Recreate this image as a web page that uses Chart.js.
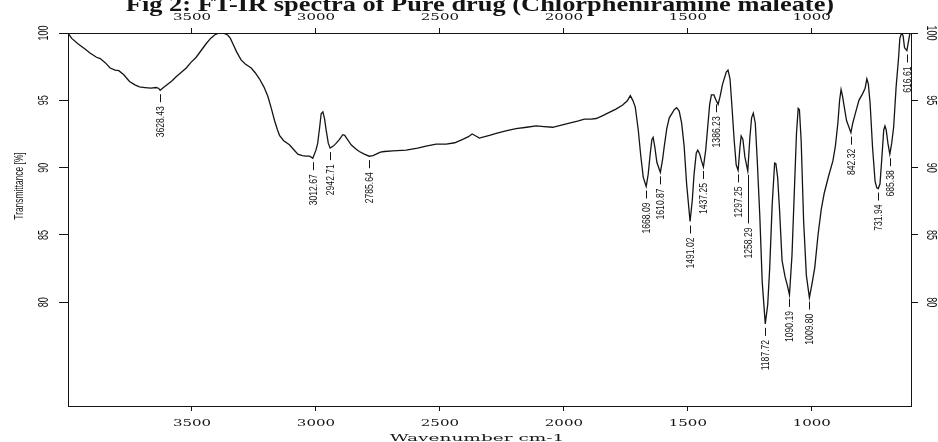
<!DOCTYPE html>
<html>
<head>
<meta charset="utf-8">
<script src="https://cdn.jsdelivr.net/npm/chart.js@4.4.1/dist/chart.umd.min.js"></script>
<style>
  html, body { margin: 0; padding: 0; background: #fff; }
  #wrap { width: 938px; height: 442px; }
</style>
</head>
<body>
<div id="wrap"><canvas id="irChart" width="938" height="442"></canvas></div>
<script>
// spectrum (wavenumber cm-1 / transmittance %)
const wavenumbers = [
  4000, 3985, 3960, 3930, 3910, 3885, 3870, 3850, 3830, 3810,
  3795, 3775, 3752, 3730, 3712, 3690, 3665, 3645, 3635, 3628.43,
  3615, 3598, 3580, 3564, 3545, 3523, 3505, 3483, 3463, 3443,
  3425, 3409, 3390, 3375, 3356, 3345, 3335, 3320, 3302, 3285,
  3261, 3245, 3228, 3210, 3194, 3180, 3167, 3155, 3147, 3130,
  3107, 3090, 3073, 3055, 3040, 3025, 3012.67, 3000, 2993, 2985,
  2979, 2972, 2965, 2959, 2950, 2942.71, 2930, 2919, 2905, 2892,
  2884, 2875, 2858, 2840, 2825, 2805, 2785.64, 2770, 2757, 2740,
  2724, 2690, 2636, 2590, 2556, 2515, 2475, 2440, 2408, 2385,
  2370, 2355, 2341, 2300, 2273, 2230, 2193, 2150, 2112, 2080,
  2045, 2010, 1978, 1945, 1917, 1890, 1870, 1845, 1817, 1790,
  1763, 1745, 1732, 1722, 1712, 1700, 1690, 1680, 1668.09, 1660,
  1652, 1645, 1640, 1633, 1625, 1610.87, 1602, 1595, 1585, 1575,
  1565, 1555, 1545, 1535, 1525, 1515, 1505, 1491.02, 1482, 1475,
  1466, 1460, 1452, 1445, 1437.25, 1428, 1420, 1412, 1405, 1395,
  1386.23, 1378, 1370, 1360, 1345, 1338, 1330, 1322, 1313, 1305,
  1297.25, 1290, 1285, 1278, 1270, 1258.29, 1250, 1243, 1236, 1228,
  1220, 1210, 1200, 1187.72, 1178, 1170, 1160, 1150, 1145, 1138,
  1130, 1120, 1108, 1098, 1090.19, 1080, 1070, 1062, 1055, 1050,
  1043, 1033, 1022, 1009.80, 1000, 988, 975, 962, 950, 932,
  915, 905, 895, 888, 882, 876, 870, 860, 842.32, 835,
  825, 810, 795, 785, 778, 772, 765, 755, 745, 738,
  731.94, 725, 718, 710, 705, 700, 693, 685.38, 678, 670,
  660, 650, 645, 638, 632, 626, 616.61, 610, 604, 600
];
const transmittance = [
  100.0, 99.6, 99.2, 98.8, 98.5, 98.2, 98.1, 97.8, 97.4, 97.25,
  97.2, 96.9, 96.4, 96.15, 96.0, 95.95, 95.9, 95.95, 95.9, 95.75,
  95.95, 96.2, 96.45, 96.75, 97.05, 97.4, 97.8, 98.2, 98.7, 99.2,
  99.6, 99.85, 100.0, 100.0, 99.85, 99.6, 99.2, 98.6, 98.0, 97.7,
  97.4, 97.05, 96.6, 96.0, 95.3, 94.4, 93.5, 92.8, 92.4, 92.0,
  91.7, 91.35, 91.0, 90.9, 90.85, 90.85, 90.7, 91.3, 91.8, 93.0,
  94.0, 94.15, 93.6, 92.8, 91.8, 91.45, 91.6, 91.8, 92.1, 92.45,
  92.4, 92.15, 91.7, 91.4, 91.2, 91.0, 90.85, 90.9, 91.0, 91.15,
  91.2, 91.25, 91.3, 91.45, 91.6, 91.75, 91.75, 91.85, 92.1, 92.3,
  92.5, 92.35, 92.2, 92.4, 92.55, 92.75, 92.9, 93.0, 93.1, 93.05,
  93.0, 93.15, 93.3, 93.45, 93.6, 93.6, 93.65, 93.85, 94.1, 94.35,
  94.65, 94.95, 95.35, 95.0, 94.5, 92.8, 90.9, 89.3, 88.6, 89.5,
  91.0, 92.1, 92.25, 91.5, 90.4, 89.65, 90.6, 91.6, 92.9, 93.7,
  94.0, 94.3, 94.45, 94.2, 93.3, 91.6, 88.8, 86.0, 87.6, 89.5,
  91.1, 91.3, 91.0, 90.5, 90.05, 91.3, 93.0, 94.7, 95.4, 95.4,
  95.0, 94.7, 95.3, 96.2, 97.1, 97.25, 96.6, 94.5, 92.0, 90.2,
  89.8, 91.5, 92.35, 92.1, 90.8, 89.75, 92.2, 93.7, 94.05, 93.3,
  90.5, 86.5, 81.5, 78.4, 79.8, 82.5, 87.2, 90.35, 90.3, 89.3,
  86.8, 83.1, 81.9, 81.2, 80.55, 83.5, 88.5, 92.5, 94.4, 94.3,
  92.0, 86.0, 82.0, 80.35, 81.3, 82.6, 85.0, 86.9, 88.1, 89.4,
  90.5, 91.6, 93.3, 95.0, 95.8, 95.3, 94.6, 93.5, 92.6, 93.3,
  94.0, 95.0, 95.5, 95.9, 96.6, 96.2, 94.8, 91.5, 89.0, 88.5,
  88.45, 88.8, 90.6, 92.8, 93.1, 92.8, 91.8, 91.0, 91.8, 93.0,
  96.0, 98.2, 99.6, 100.0, 99.8, 98.9, 98.7, 99.4, 100.0, 100.0
];
// labelled minima
const peakLabels = [3628.43, 3012.67, 2942.71, 2785.64, 1668.09, 1610.87, 1491.02, 1437.25,
  1386.23, 1297.25, 1258.29, 1187.72, 1090.19, 1009.80, 842.32, 731.94, 685.38, 616.61];
const xTicks = [3500, 3000, 2500, 2000, 1500, 1000];
const yTicks = [80, 85, 90, 95, 100];

const chartTitle = 'Fig 2: FT-IR spectra of Pure drug (Chlorpheniramine maleate)';
const xTitle = 'Wavenumber cm-1';
const yTitle = 'Transmittance [%]';

const INK = '#141414';
const SANS = '"Liberation Sans", Arial, sans-serif';
const SERIF = '"DejaVu Serif", serif';

// draws a piece of text, optionally rotated and stretched
function drawText(ctx, s, x, y, o) {
  ctx.save();
  ctx.translate(x, y);
  if (o.rot) ctx.rotate(o.rot);
  ctx.scale(o.sx || 1, o.sy || 1);
  ctx.font = o.font;
  ctx.fillStyle = INK;
  ctx.textAlign = o.align || 'center';
  ctx.textBaseline = o.base || 'middle';
  ctx.fillText(s, 0, 0);
  ctx.restore();
}

const textPlugin = {
  id: 'irText',
  afterDraw(chart) {
    const ctx = chart.ctx;
    const x = chart.scales.x, y = chart.scales.y;

    // title, top cut off like the picture
    drawText(ctx, chartTitle, 480, 10.5, { font: 'bold 22px "Liberation Serif", serif', sx: 1.2, base: 'alphabetic' });

    // x tick labels top and bottom
    xTicks.forEach(v => {
      const px = x.getPixelForValue(v);
      drawText(ctx, String(v), px, 17.5, { font: '10px ' + SERIF, sx: 1.5 });
      drawText(ctx, String(v), px, 423, { font: '10px ' + SERIF, sx: 1.5 });
    });
    drawText(ctx, xTitle, 477, 440.5, { font: '10px ' + SERIF, sx: 1.85, base: 'alphabetic' });

    // y tick labels, rotated both sides
    yTicks.forEach(v => {
      const py = y.getPixelForValue(v);
      drawText(ctx, String(v), 43.5, py, { font: '11px ' + SANS, rot: -Math.PI / 2, sx: 0.82, sy: 1.35 });
      drawText(ctx, String(v), 931.5, py, { font: '11px ' + SANS, rot: Math.PI / 2, sx: 0.82, sy: 1.35 });
    });
    drawText(ctx, yTitle, 19, 186, { font: '10px ' + SANS, rot: -Math.PI / 2, sx: 0.84, sy: 1.3 });

    // peak labels under each minimum
    ctx.save();
    ctx.font = '10px ' + SANS;
    ctx.strokeStyle = INK;
    ctx.lineWidth = 1;
    const placed = [];
    peakLabels.forEach(wn => {
      const i = wavenumbers.indexOf(wn);
      const px = Math.round(x.getPixelForValue(wn)) + 0.5;
      const py = y.getPixelForValue(transmittance[i]);
      const s = wn.toFixed(2);
      const len = ctx.measureText(s).width * 0.86;
      let top = py + 16;
      placed.forEach(p => {
        if (Math.abs(p.x - px) < 11 && top < p.bottom + 4 && top + len > p.top - 4) top = p.bottom + 10;
      });
      ctx.beginPath();
      ctx.moveTo(px, py + 4);
      ctx.lineTo(px, top - 4);
      ctx.stroke();
      drawText(ctx, s, px, top, { font: '10px ' + SANS, rot: -Math.PI / 2, sx: 0.86, sy: 1.12, align: 'right' });
      placed.push({ x: px, top: top, bottom: top + len });
    });
    ctx.restore();
  }
};

function axis(position, size, tickLength, extra) {
  const horiz = position === 'top' || position === 'bottom';
  return Object.assign({
    type: 'linear',
    position: position,
    afterFit: s => { if (horiz) s.height = size; else s.width = size; },
    ticks: { display: false },
    grid: { display: true, drawOnChartArea: false, drawTicks: true, tickLength: tickLength, color: INK, lineWidth: 1 },
    border: { display: true, color: INK, width: 1 }
  }, extra);
}

const xRange = { reverse: true, min: 600, max: 4000, afterBuildTicks: s => { s.ticks = xTicks.map(v => ({ value: v })); } };
const yRange = { min: 72.3, max: 100, afterBuildTicks: s => { s.ticks = yTicks.map(v => ({ value: v })); } };

new Chart(document.getElementById('irChart').getContext('2d'), {
  type: 'line',
  data: {
    datasets: [{
      data: wavenumbers.map((w, i) => ({ x: w, y: transmittance[i] })),
      borderColor: INK,
      borderWidth: 1.3,
      pointRadius: 0,
      tension: 0,
      fill: false
    }]
  },
  options: {
    responsive: false,
    animation: false,
    devicePixelRatio: 1,
    layout: { padding: 0 },
    plugins: { legend: { display: false }, tooltip: { enabled: false }, title: { display: false } },
    scales: {
      x: axis('bottom', 36, 5, xRange),
      x2: axis('top', 33, 5, xRange),
      y: axis('left', 68, 9, yRange),
      y2: axis('right', 27, 7, yRange)
    }
  },
  plugins: [textPlugin]
});
</script>
</body>
</html>
